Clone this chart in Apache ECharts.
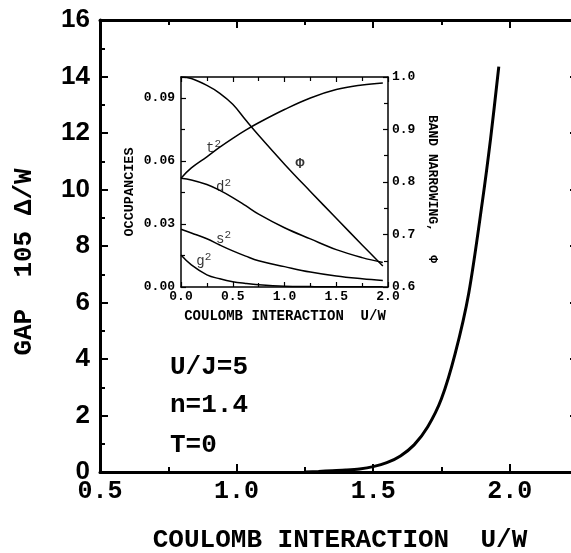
<!DOCTYPE html>
<html>
<head>
    <title>Gap vs Coulomb interaction</title>
    <meta charset="utf-8">
    <script type="text/javascript" src="https://cdn.jsdelivr.net/npm/echarts@6/dist/echarts.min.js"></script>
    <style>
        html, body { margin: 0; padding: 0; background: #fff; }
    </style>
</head>
<body>
    <div id="chart" style="width:571px; height:553px;"></div>
    <script>
        // main plot: gap (x 10^5) against U/W
        const uGap = [1.25, 1.30, 1.35, 1.40, 1.45, 1.50, 1.55, 1.60, 1.65, 1.70, 1.75, 1.80, 1.85, 1.90, 1.93, 1.96];
        const gap = [0.0, 0.02, 0.045, 0.07, 0.11, 0.19, 0.33, 0.57, 0.96, 1.60, 2.59, 4.18, 6.33, 9.58, 11.80, 14.35];

        // inset: occupancies (left axis) and band narrowing (right axis)
        const uInset = [0, 0.1, 0.25, 0.375, 0.5, 0.625, 0.75, 1.0, 1.25, 1.5, 1.75, 1.95];
        const phi = [1.000, 0.997, 0.984, 0.969, 0.948, 0.918, 0.889, 0.834, 0.782, 0.731, 0.680, 0.640];
        const t2 = [0.0518, 0.0567, 0.0620, 0.0666, 0.0708, 0.0747, 0.0782, 0.0845, 0.0900, 0.0940, 0.0962, 0.0972];
        const d2 = [0.0518, 0.0510, 0.0488, 0.0460, 0.0426, 0.0387, 0.0347, 0.0282, 0.0229, 0.0178, 0.0140, 0.0117];
        const s2 = [0.0275, 0.0257, 0.0230, 0.0200, 0.0172, 0.0147, 0.0125, 0.0097, 0.0071, 0.0052, 0.0039, 0.0031];
        const g2 = [0.0152, 0.0105, 0.0058, 0.0039, 0.0025, 0.0017, 0.0011, 0.0004, 0.0002, 0.0001, 0.0001, 0.0001];

        // curve labels inside the inset
        const labelNames = ['t', 'd', 's', 'g', 'Φ'];
        const labelSup = ['2', '2', '2', '2', ''];
        const labelU = [0.314, 0.411, 0.411, 0.220, 1.150];
        const labelOcc = [0.0667, 0.0481, 0.0233, 0.0129, 0.0586];

        const mono = 'Liberation Mono, Courier New, monospace';
        const sans = 'Liberation Sans, Arial, sans-serif';

        const zip = (xs, ys) => xs.map((x, i) => [x, ys[i]]);

        function mainX(pos, showLabel) {
            return {
                type: 'value', gridIndex: 0, position: pos,
                min: 0.5, max: 2.25, interval: 0.5,
                axisLine: { show: true, onZero: false, lineStyle: { color: '#000', width: 3 } },
                axisTick: { show: true, inside: true, length: 8, lineStyle: { color: '#000', width: 2 } },
                minorTick: { show: true, splitNumber: 2, length: 5, lineStyle: { color: '#000', width: 2 } },
                splitLine: { show: false },
                axisLabel: {
                    show: showLabel, showMaxLabel: false, margin: 7,
                    fontFamily: mono, fontWeight: 'bold', fontSize: 25, color: '#000',
                    formatter: v => v.toFixed(1)
                }
            };
        }
        function mainY(pos, showLabel) {
            return {
                type: 'value', gridIndex: 0, position: pos,
                min: 0, max: 16, interval: 2,
                axisLine: { show: true, onZero: false, lineStyle: { color: '#000', width: 3 } },
                axisTick: { show: true, inside: true, length: 8, lineStyle: { color: '#000', width: 2 } },
                minorTick: { show: true, splitNumber: 2, length: 5, lineStyle: { color: '#000', width: 2 } },
                splitLine: { show: false },
                axisLabel: {
                    show: showLabel, margin: 10,
                    fontFamily: sans, fontWeight: 'bold', fontSize: 26, color: '#000'
                }
            };
        }
        function insetAxis(extra, showLabel, digits, margin) {
            return Object.assign({
                type: 'value', gridIndex: 1,
                axisLine: { show: true, onZero: false, lineStyle: { color: '#000', width: 1.5 } },
                axisTick: { show: true, inside: true, length: 5, lineStyle: { color: '#000', width: 1.2 } },
                minorTick: { show: true, splitNumber: 2, length: 4, lineStyle: { color: '#000', width: 1.2 } },
                splitLine: { show: false },
                axisLabel: {
                    show: showLabel, showMaxLabel: extra.showMax !== false, margin: margin,
                    fontFamily: mono, fontWeight: 'bold', fontSize: 13, color: '#000',
                    formatter: v => v.toFixed(digits)
                }
            }, extra.axis);
        }

        const lineStyle = w => ({ color: '#000', width: w });
        const insetLine = (yIdx, ys) => ({
            type: 'line', xAxisIndex: 2, yAxisIndex: yIdx, data: zip(uInset, ys),
            smooth: 0.4, showSymbol: false, lineStyle: lineStyle(1.5), silent: true
        });

        const chart = echarts.init(document.getElementById('chart'));
        chart.setOption({
            animation: false,
            backgroundColor: '#fff',
            grid: [
                { left: 100, top: 20, width: 478, height: 452, containLabel: false, outerBoundsMode: 'none' },
                { left: 181, top: 77, width: 207, height: 210, containLabel: false, outerBoundsMode: 'none' }
            ],
            xAxis: [
                mainX('bottom', true),
                mainX('top', false),
                insetAxis({ axis: { position: 'bottom', min: 0, max: 2, interval: 0.5 } }, true, 1, 3),
                insetAxis({ axis: { position: 'top', min: 0, max: 2, interval: 0.5 } }, false, 1, 3)
            ],
            yAxis: [
                mainY('left', true),
                mainY('right', false),
                insetAxis({ axis: { position: 'left', min: 0, max: 0.1, interval: 0.03 }, showMax: false }, true, 2, 6),
                insetAxis({ axis: { position: 'right', min: 0.6, max: 1.0, interval: 0.1 } }, true, 1, 4)
            ],
            series: [
                {
                    type: 'line', xAxisIndex: 0, yAxisIndex: 0, data: zip(uGap, gap),
                    smooth: 0.3, showSymbol: false, lineStyle: lineStyle(3), silent: true
                },
                insetLine(3, phi),
                insetLine(2, t2),
                insetLine(2, d2),
                insetLine(2, s2),
                insetLine(2, g2),
                {
                    type: 'scatter', xAxisIndex: 2, yAxisIndex: 2, symbolSize: 0, silent: true,
                    data: labelNames.map((n, i) => ({ name: n, sup: labelSup[i], value: [labelU[i], labelOcc[i]] })),
                    label: {
                        show: true, position: 'inside',
                        formatter: p => p.data.sup ? '{a|' + p.name + '}{b|' + p.data.sup + '}' : '{c|' + p.name + '}',
                        rich: {
                            a: { fontFamily: mono, fontSize: 14, color: '#000', lineHeight: 16, verticalAlign: 'bottom' },
                            b: { fontFamily: mono, fontSize: 11, color: '#000', lineHeight: 16, verticalAlign: 'top' },
                            c: { fontFamily: mono, fontSize: 15, fontWeight: 'bold', color: '#000' }
                        }
                    }
                }
            ],
            graphic: [
                {
                    type: 'text', x: 340, y: 540, silent: true,
                    style: { text: 'COULOMB INTERACTION  U/W', font: 'bold 26px ' + mono, fill: '#000', align: 'center', verticalAlign: 'middle' }
                },
                {
                    type: 'text', x: 24, y: 262, rotation: Math.PI / 2, silent: true,
                    style: { text: 'GAP  105 Δ/W', font: 'bold 26px ' + mono, fill: '#000', align: 'center', verticalAlign: 'middle' }
                },
                {
                    type: 'text', x: 170, y: 367, silent: true,
                    style: { text: 'U/J=5', font: 'bold 26px ' + mono, fill: '#000', align: 'left', verticalAlign: 'middle' }
                },
                {
                    type: 'text', x: 170, y: 405, silent: true,
                    style: { text: 'n=1.4', font: 'bold 26px ' + mono, fill: '#000', align: 'left', verticalAlign: 'middle' }
                },
                {
                    type: 'text', x: 170, y: 445, silent: true,
                    style: { text: 'T=0', font: 'bold 26px ' + mono, fill: '#000', align: 'left', verticalAlign: 'middle' }
                },
                {
                    type: 'text', x: 285, y: 316, silent: true,
                    style: { text: 'COULOMB INTERACTION  U/W', font: 'bold 14px ' + mono, fill: '#000', align: 'center', verticalAlign: 'middle' }
                },
                {
                    type: 'text', x: 130, y: 192, rotation: Math.PI / 2, silent: true,
                    style: { text: 'OCCUPANCIES', font: 'bold 13.5px ' + mono, fill: '#000', align: 'center', verticalAlign: 'middle' }
                },
                {
                    type: 'text', x: 432, y: 189, rotation: -Math.PI / 2, silent: true,
                    style: { text: 'BAND NARROWING,   Φ', font: 'bold 13px ' + mono, fill: '#000', align: 'center', verticalAlign: 'middle' }
                }
            ]
        });
    </script>
</body>
</html>
